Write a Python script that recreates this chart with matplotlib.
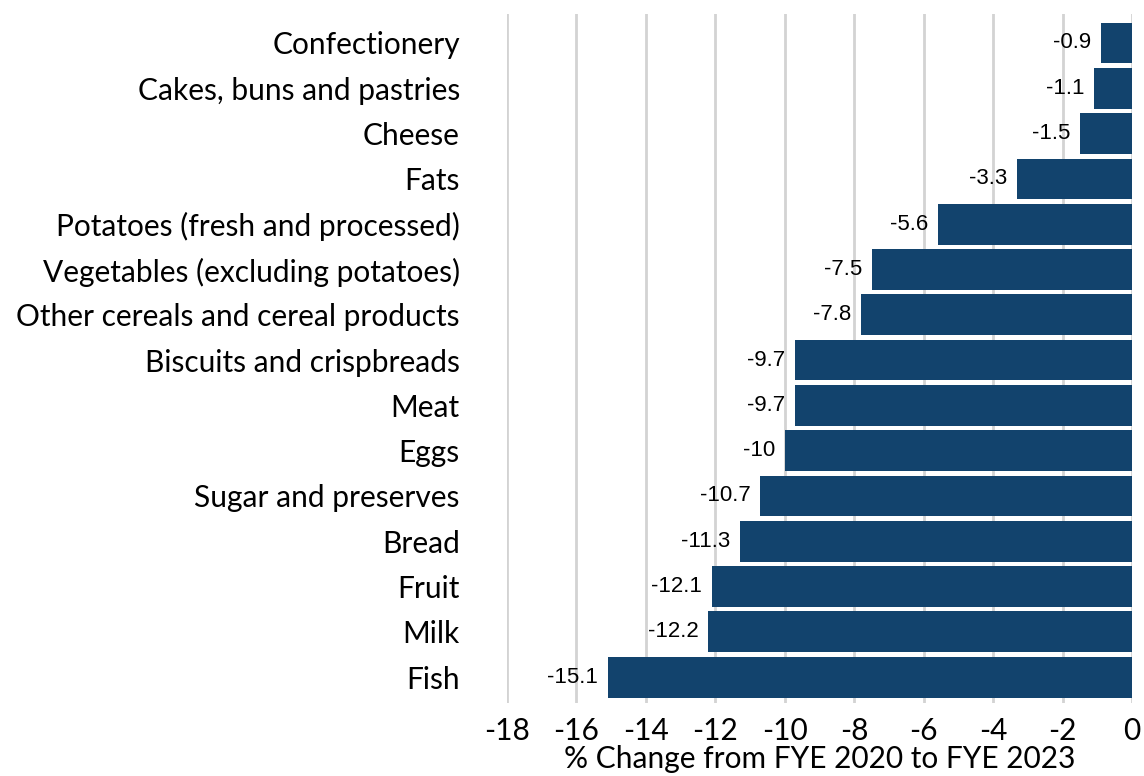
import matplotlib.pyplot as plt

categories = ['Confectionery', 'Cakes, buns and pastries', 'Cheese', 'Fats',
              'Potatoes (fresh and processed)', 'Vegetables (excluding potatoes)',
              'Other cereals and cereal products', 'Biscuits and crispbreads',
              'Meat', 'Eggs', 'Sugar and preserves', 'Bread', 'Fruit', 'Milk', 'Fish']
values = [-0.9, -1.1, -1.5, -3.3, -5.6, -7.5, -7.8, -9.7, -9.7, -10, -10.7,
          -11.3, -12.1, -12.2, -15.1]
ticks = [-18, -16, -14, -12, -10, -8, -6, -4, -2, 0]

W, H = 1144, 776
fig = plt.figure(figsize=(W / 100, H / 100), dpi=100)
ax = fig.add_axes([507 / W, (H - 703) / H, (1132 - 507) / W, (703 - 14) / H])

ypos = list(range(len(categories)))
ax.barh(ypos, values, height=0.9, color='#12436D', zorder=3)

for y, v in zip(ypos, values):
    ax.annotate(f'{v:g}', (v, y), xytext=(-7, 0), textcoords='offset points',
                ha='right', va='center', fontsize=16, family='Liberation Sans',
                color='black', zorder=4)

ax.set_xlim(-18, 0)
ax.set_ylim(len(categories) - 0.43, -0.64)
ax.set_xticks(ticks)
ax.set_xticklabels([str(t) for t in ticks], fontsize=21.5, family='Lato')
ax.set_yticks(ypos)
ax.set_yticklabels(categories, fontsize=21.5, family='Lato')
ax.tick_params(axis='both', length=0)
ax.tick_params(axis='x', pad=10)
ax.tick_params(axis='y', pad=34)
ax.grid(axis='x', color='#d3d3d3', linewidth=2, zorder=0)
ax.set_axisbelow(True)
for s in ax.spines.values():
    s.set_visible(False)
ax.set_xlabel('% Change from FYE 2020 to FYE 2023', fontsize=21.5, family='Lato',
              labelpad=0)

fig.savefig('out.png', dpi=100)
